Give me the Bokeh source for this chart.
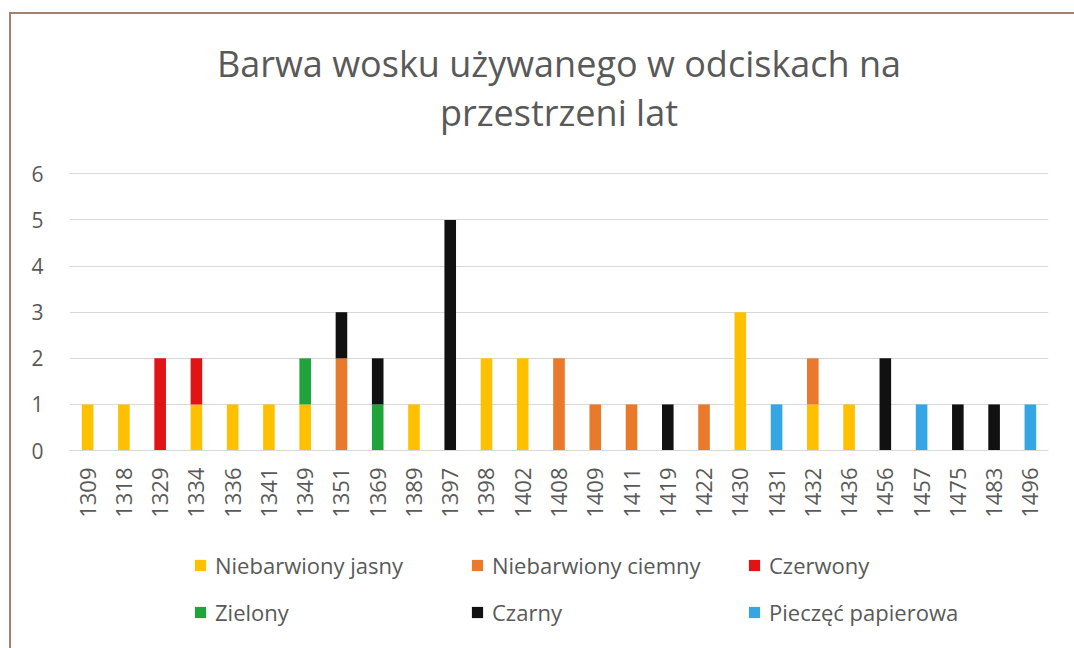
import math
from bokeh.plotting import figure
from bokeh.models import ColumnDataSource, Range1d, FixedTicker, Title
from bokeh.embed import file_html
from bokeh.resources import INLINE

years = ["1309", "1318", "1329", "1334", "1336", "1341", "1349", "1351", "1369",
         "1389", "1397", "1398", "1402", "1408", "1409", "1411", "1419", "1422",
         "1430", "1431", "1432", "1436", "1456", "1457", "1475", "1483", "1496"]

niebarwiony_jasny = [1, 1, 0, 1, 1, 1, 1, 0, 0, 1, 0, 2, 2, 0, 0, 0, 0, 0, 3, 0, 1, 1, 0, 0, 0, 0, 0]
niebarwiony_ciemny = [0, 0, 0, 0, 0, 0, 0, 2, 0, 0, 0, 0, 0, 2, 1, 1, 0, 1, 0, 0, 1, 0, 0, 0, 0, 0, 0]
czerwony = [0, 0, 2, 1, 0, 0, 0, 0, 0, 0, 0, 0, 0, 0, 0, 0, 0, 0, 0, 0, 0, 0, 0, 0, 0, 0, 0]
zielony = [0, 0, 0, 0, 0, 0, 1, 0, 1, 0, 0, 0, 0, 0, 0, 0, 0, 0, 0, 0, 0, 0, 0, 0, 0, 0, 0]
czarny = [0, 0, 0, 0, 0, 0, 0, 1, 1, 0, 5, 0, 0, 0, 0, 0, 1, 0, 0, 0, 0, 0, 2, 0, 1, 1, 0]
pieczec_papierowa = [0, 0, 0, 0, 0, 0, 0, 0, 0, 0, 0, 0, 0, 0, 0, 0, 0, 0, 0, 1, 0, 0, 0, 1, 0, 0, 1]

series_keys = ["jasny", "ciemny", "czerwony", "zielony", "czarny", "papierowa"]
series_labels = ["Niebarwiony jasny", "Niebarwiony ciemny", "Czerwony",
                 "Zielony", "Czarny", "Pieczęć papierowa"]
series_colors = ["#FFC000", "#E97A2B", "#E01414", "#1FA33B", "#111111", "#35A6E3"]
y_ticks = [0, 1, 2, 3, 4, 5, 6]
title_lines = ["Barwa wosku używanego w odciskach na", "przestrzeni lat"]

source = ColumnDataSource(data=dict(
    year=years,
    jasny=niebarwiony_jasny,
    ciemny=niebarwiony_ciemny,
    czerwony=czerwony,
    zielony=zielony,
    czarny=czarny,
    papierowa=pieczec_papierowa,
))

FONT = "Open Sans"
TXT = "#595959"
FRAME = "#A08274"

# The frame extends below the value axis to host the category labels and the
# legend; the y range below zero is empty space (no ticks, no grid lines).
p = figure(x_range=years, y_range=Range1d(-4.12, 6.03), width=1074, height=648,
           output_backend="svg", toolbar_location=None,
           min_border_left=69, min_border_right=26, min_border_top=172,
           min_border_bottom=8)

p.vbar_stack(series_keys, x="year", width=0.32, color=series_colors,
             line_color=None, source=source, legend_label=series_labels)

p.title.visible = False
for i, line in enumerate(reversed(title_lines)):
    t = Title(text=line, align="center", text_font=FONT, text_font_size="36px",
              text_font_style="normal", text_color=TXT, offset=-12,
              standoff=(72 if i == 0 else -77))
    p.add_layout(t, "above")

p.background_fill_color = "white"
p.border_fill_alpha = 0
p.outline_line_color = None

# thin outer frame (left and top edges) drawn behind the transparent canvas border
p.styles = {
    "background-color": "white",
    "background-image": f"linear-gradient({FRAME}, {FRAME}), linear-gradient({FRAME}, {FRAME})",
    "background-size": "2px 2000px, 2000px 2px",
    "background-position": "9px 12px, 9px 12px",
    "background-repeat": "no-repeat",
}

p.xgrid.grid_line_color = None
p.ygrid.grid_line_color = "#D9D9D9"
p.ygrid.ticker = FixedTicker(ticks=y_ticks)

p.yaxis.ticker = FixedTicker(ticks=y_ticks)
p.yaxis.axis_line_color = None
p.yaxis.major_tick_line_color = None
p.yaxis.minor_tick_line_color = None
p.yaxis.major_tick_out = 0
p.yaxis.major_tick_in = 0
p.yaxis.major_label_standoff = 26
p.yaxis.major_label_text_font = FONT
p.yaxis.major_label_text_font_size = "21px"
p.yaxis.major_label_text_color = TXT

p.xaxis.fixed_location = 0
p.xaxis.axis_line_color = "#D9D9D9"
p.xaxis.major_tick_line_color = None
p.xaxis.major_tick_out = 0
p.xaxis.major_tick_in = 0
p.xaxis.major_label_orientation = math.pi / 2
p.xaxis.major_label_standoff = 17
p.xaxis.major_label_text_font = FONT
p.xaxis.major_label_text_font_size = "22px"
p.xaxis.major_label_text_color = TXT

leg = p.legend[0]
leg.orientation = "horizontal"
leg.ncols = 3
leg.location = (124, 13)
leg.glyph_width = 14
leg.glyph_height = 14
leg.label_standoff = 8
leg.label_width = 238
leg.spacing = 17
leg.padding = 0
leg.margin = 0
leg.border_line_color = None
leg.background_fill_alpha = 0
leg.label_text_font = FONT
leg.label_text_font_size = "22px"
leg.label_text_color = TXT

open("out.html", "w").write(file_html(p, INLINE))
